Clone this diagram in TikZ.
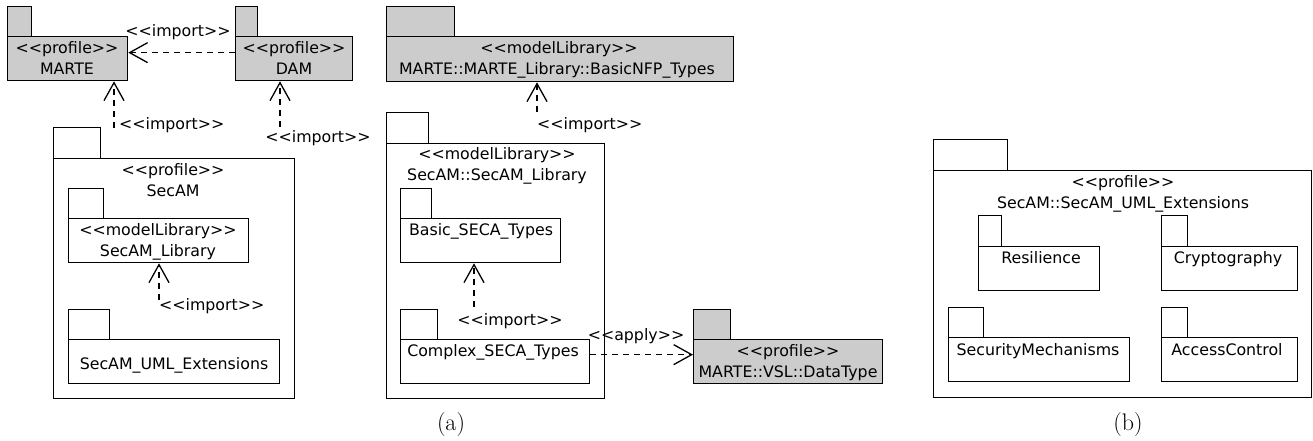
\documentclass[tikz,border=0pt]{standalone}
\usepackage{fontspec}
\newfontfamily\dv{DejaVu Sans}[Ligatures=TeXOff]
\usetikzlibrary{arrows.meta}
\begin{document}
\begin{tikzpicture}[x=1pt,y=-1pt,
  box/.style={draw,line width=1.3pt,inner sep=0pt,anchor=north west},
  gr/.style={fill=black!20},
  lbl/.style={inner sep=0pt,anchor=base,font=\dv\fontsize{15.8}{19}\selectfont},
  dep/.style={line width=1.1pt,dash pattern=on 6pt off 5pt,-{Straight Barb[length=18pt,width=20pt,line width=1.3pt]}},
  captxt/.style={inner sep=0pt,font=\fontsize{24}{28}\selectfont}]
\useasboundingbox (0,0) rectangle (1313,441);
% (a) top row
\node[box,gr,minimum width=24pt,minimum height=30pt] (marteTab) at (7,6) {};
\node[box,gr,minimum width=120pt,minimum height=44pt] (marte) at (7,36) {};
\node[box,gr,minimum width=22pt,minimum height=30pt] (damTab) at (235,6) {};
\node[box,gr,minimum width=117pt,minimum height=44pt] (dam) at (235,36) {};
\node[box,gr,minimum width=68pt,minimum height=30pt] (nfpTab) at (386,6) {};
\node[box,gr,minimum width=347pt,minimum height=45pt] (nfp) at (386,36) {};
\node[lbl] (marteA) at (67,54) {<<profile>>};
\node[lbl] (marteB) at (67,75) {MARTE};
\node[lbl] (damA) at (294,54) {<<profile>>};
\node[lbl] (damB) at (294,75) {DAM};
\node[lbl] (nfpA) at (559,54) {<<modelLibrary>>};
\node[lbl] (nfpB) at (557,75) {MARTE::MARTE\_Library::BasicNFP\_Types};
% SecAM profile
\node[box,minimum width=47pt,minimum height=31pt] (secamTab) at (53,127) {};
\node[box,minimum width=241pt,minimum height=240pt] (secam) at (53,158) {};
\node[lbl] (secamA) at (173,175) {<<profile>>};
\node[lbl] (secamB) at (173,196) {SecAM};
\node[box,minimum width=35pt,minimum height=30pt] (seclibTab) at (68,188) {};
\node[box,minimum width=180pt,minimum height=44pt] (seclib) at (68,218) {};
\node[lbl] (seclibA) at (158,235) {<<modelLibrary>>};
\node[lbl] (seclibB) at (158,256) {SecAM\_Library};
\node[box,minimum width=41pt,minimum height=30pt] (umlTab) at (68,309) {};
\node[box,minimum width=211pt,minimum height=44pt] (uml) at (68,339) {};
\node[lbl] (umlA) at (174,369) {SecAM\_UML\_Extensions};
% SecAM library
\node[box,minimum width=42pt,minimum height=31pt] (slTab) at (386,112) {};
\node[box,minimum width=218pt,minimum height=255pt] (sl) at (386,143) {};
\node[lbl] (slA) at (497,159) {<<modelLibrary>>};
\node[lbl] (slB) at (497,180) {SecAM::SecAM\_Library};
\node[box,minimum width=31pt,minimum height=30pt] (basicTab) at (400,188) {};
\node[box,minimum width=160pt,minimum height=44pt] (basic) at (400,218) {};
\node[lbl] (basicA) at (481,235) {Basic\_SECA\_Types};
\node[box,minimum width=37pt,minimum height=30pt] (complexTab) at (400,309) {};
\node[box,minimum width=189pt,minimum height=44pt] (complex) at (400,339) {};
\node[lbl] (complexA) at (493,356) {Complex\_SECA\_Types};
\node[box,gr,minimum width=37pt,minimum height=30pt] (dtTab) at (693,309) {};
\node[box,gr,minimum width=189pt,minimum height=44pt] (dt) at (693,339) {};
\node[lbl] (dtA) at (788,356) {<<profile>>};
\node[lbl] (dtB) at (788,377) {MARTE::VSL::DataType};
% connectors (a)
\draw[dep] ([yshift=6pt]dam.west) -- ([yshift=6pt]marte.east);
\node[lbl] (imp1) at (178,37) {<<import>>};
\coordinate (t1) at (114,128);
\draw[dep] (t1) -- (t1 |- marte.south);
\node[lbl,anchor=base west] (imp2) at (119,129) {<<import>>};
\coordinate (t2) at (280,127);
\draw[dep] (t2) -- (t2 |- dam.south);
\node[lbl] (imp3) at (318,142) {<<import>>};
\coordinate (t3) at (537,112);
\draw[dep] (t3) -- (t3 |- nfp.south);
\node[lbl,anchor=base west] (imp4) at (537,129) {<<import>>};
\coordinate (t4) at (159,300);
\draw[dep] (t4) -- (t4 |- seclib.south);
\node[lbl,anchor=base west] (imp5) at (159,310) {<<import>>};
\coordinate (t5) at (474,307);
\draw[dep] (t5) -- (t5 |- basic.south);
\node[lbl] (imp6) at (510,325) {<<import>>};
\draw[dep] ([yshift=7pt]complex.east) -- ([yshift=7pt]dt.west);
\node[lbl] (app) at (636,340) {<<apply>>};
\node[captxt] (capa) at (451,425) {(a)};
% (b)
\node[box,minimum width=74pt,minimum height=31pt] (extTab) at (933,139) {};
\node[box,minimum width=378pt,minimum height=227pt] (ext) at (933,170) {};
\node[lbl] (extA) at (1123,187) {<<profile>>};
\node[lbl] (extB) at (1123,208) {SecAM::SecAM\_UML\_Extensions};
\node[box,minimum width=23pt,minimum height=31pt] (resTab) at (978,215) {};
\node[box,minimum width=121pt,minimum height=44pt] (res) at (978,246) {};
\node[lbl] (resA) at (1041,263) {Resilience};
\node[box,minimum width=26pt,minimum height=31pt] (cryTab) at (1161,215) {};
\node[box,minimum width=136pt,minimum height=44pt] (cry) at (1161,246) {};
\node[lbl] (cryA) at (1228,263) {Cryptography};
\node[box,minimum width=35pt,minimum height=30pt] (secTab) at (948,307) {};
\node[box,minimum width=181pt,minimum height=44pt] (sec) at (948,337) {};
\node[lbl] (secA) at (1038,355) {SecurityMechanisms};
\node[box,minimum width=26pt,minimum height=30pt] (accTab) at (1161,307) {};
\node[box,minimum width=136pt,minimum height=44pt] (acc) at (1161,337) {};
\node[lbl] (accA) at (1227,355) {AccessControl};
\node[captxt] (capb) at (1128,425) {(b)};
\end{tikzpicture}
\end{document}
